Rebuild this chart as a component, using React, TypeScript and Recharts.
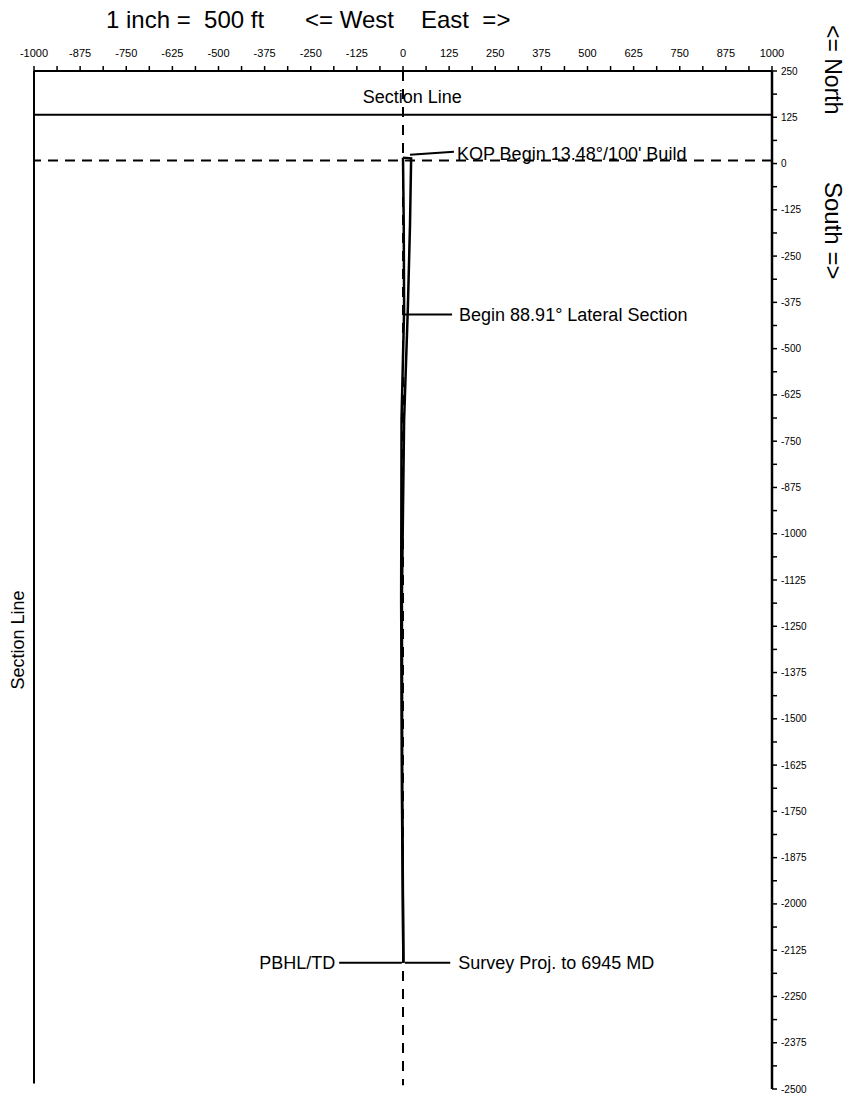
import {
  ScatterChart,
  Scatter,
  XAxis,
  YAxis,
  ReferenceLine,
  ReferenceDot,
} from "recharts";

// axis ticks (feet) – labelled every 125, minor tick half way between
const xMajorTicks = [
  -1000, -875, -750, -625, -500, -375, -250, -125, 0, 125, 250, 375, 500, 625, 750, 875, 1000,
];
const yMajorTicks = [
  250, 125, 0, -125, -250, -375, -500, -625, -750, -875, -1000, -1125, -1250, -1375, -1500,
  -1625, -1750, -1875, -2000, -2125, -2250, -2375, -2500,
];

// well path, East/West and North/South offsets (ft)
const surveyEW = [0, 2, 3, -4, -5, -3, 1];
const surveyNS = [16, -165, -395, -692, -1178, -1700, -2159];
const planEW = [0, 22, 19, 13, 3, -3, -2, 1];
const planNS = [16, 14, -165, -395, -692, -1178, -1700, -2159];

// section lines / reference lines
const sectionLineNS = 132;
const sectionLineEW = -1000;
const kopLineNS = 8;

// annotations: leader start, leader end, text
const kopLeader = [
  { x: 19, y: 24 },
  { x: 138, y: 32 },
];
const lateralLeader = [
  { x: 5, y: -408 },
  { x: 133, y: -408 },
];
const pbhlLeader = [
  { x: -173, y: -2159 },
  { x: -3, y: -2159 },
];
const surveyLeader = [
  { x: 5, y: -2159 },
  { x: 128, y: -2159 },
];
const kopText = "KOP Begin 13.48°/100' Build";
const lateralText = "Begin 88.91° Lateral Section";
const pbhlText = "PBHL/TD";
const surveyText = "Survey Proj. to 6945 MD";

const FONT = '"Liberation Sans", Arial, sans-serif';

const withMinor = (major: number[]) => {
  const out: number[] = [];
  major.forEach((v, i) => {
    out.push(v);
    if (i < major.length - 1) out.push((v + major[i + 1]) / 2);
  });
  return out;
};

const surveyData = surveyEW.map((x, i) => ({ x, y: surveyNS[i] }));
const planData = planEW.map((x, i) => ({ x, y: planNS[i] }));

const TopTick = (props: any) => {
  const { x, y, payload } = props;
  if (!xMajorTicks.includes(payload.value)) return <g />;
  return (
    <text x={x} y={y - 7} textAnchor="middle" fontSize={11} fill="#000" fontFamily={FONT}>
      {payload.value}
    </text>
  );
};

const RightTick = (props: any) => {
  const { x, y, payload } = props;
  if (!yMajorTicks.includes(payload.value)) return <g />;
  return (
    <text x={x} y={y} dy="0.35em" textAnchor="start" fontSize={10} fill="#000" fontFamily={FONT}>
      {payload.value}
    </text>
  );
};

const noShape = () => <g />;

const labelStyle = { fontSize: 18, fill: "#000", fontFamily: FONT };

const App = () => {
  return (
    <div style={{ position: "relative", width: 845, height: 1090, fontFamily: FONT }}>
      <span style={{ position: "absolute", left: 98, top: 0, fontSize: 24, lineHeight: "24px", whiteSpace: "pre" }}>
        1 inch =  500 ft
      </span>
      <span style={{ position: "absolute", left: 297, top: 0, fontSize: 24, lineHeight: "24px", whiteSpace: "pre" }}>
        {"<= West"}
      </span>
      <span style={{ position: "absolute", left: 413, top: 0, fontSize: 24, lineHeight: "24px", whiteSpace: "pre" }}>
        {"East  =>"}
      </span>
      <span
        style={{
          position: "absolute",
          left: 813,
          top: 17,
          fontSize: 23,
          lineHeight: "24px",
          writingMode: "vertical-rl",
          whiteSpace: "pre",
        }}
      >
        {"<= North"}
      </span>
      <span
        style={{
          position: "absolute",
          left: 813,
          top: 174,
          fontSize: 24,
          lineHeight: "24px",
          writingMode: "vertical-rl",
          whiteSpace: "pre",
        }}
      >
        {"South =>"}
      </span>
      <span
        style={{
          position: "absolute",
          left: 10,
          top: 632,
          fontSize: 18,
          lineHeight: 1,
          whiteSpace: "nowrap",
          transform: "translate(-50%, -50%) rotate(-90deg)",
        }}
      >
        Section Line
      </span>

      <ScatterChart width={845} height={1090} margin={{ top: 13, right: 36, bottom: 9, left: 26 }}>
        <XAxis
          type="number"
          dataKey="x"
          orientation="top"
          domain={[-1000, 1000]}
          ticks={withMinor(xMajorTicks)}
          interval={0}
          height={50}
          tickSize={5}
          tickMargin={2}
          tick={<TopTick />}
          axisLine={{ stroke: "#000", strokeWidth: 2 }}
          tickLine={{ stroke: "#000", strokeWidth: 1.5 }}
          allowDataOverflow
        />
        <YAxis
          type="number"
          dataKey="y"
          orientation="right"
          domain={[-2500, 250]}
          ticks={withMinor(yMajorTicks)}
          interval={0}
          width={45}
          tickSize={5}
          tickMargin={4}
          tick={<RightTick />}
          axisLine={{ stroke: "#000", strokeWidth: 2.5 }}
          tickLine={{ stroke: "#000", strokeWidth: 1.5 }}
          allowDataOverflow
        />

        <ReferenceLine segment={[{ x: sectionLineEW, y: 250 }, { x: sectionLineEW, y: -2485 }]} stroke="#000" strokeWidth={2} />
        <ReferenceLine y={sectionLineNS} stroke="#000" strokeWidth={2} />
        <ReferenceLine y={kopLineNS} stroke="#000" strokeWidth={2} strokeDasharray="10 7" />
        <ReferenceLine segment={[{ x: 0, y: 250 }, { x: 0, y: -2490 }]} stroke="#000" strokeWidth={2} strokeDasharray="10 8" />

        <ReferenceDot x={25} y={180} r={0} fill="none" stroke="none" label={{ value: "Section Line", position: "center", ...labelStyle }} />

        <ReferenceLine segment={kopLeader} stroke="#000" strokeWidth={2} />
        <ReferenceLine segment={lateralLeader} stroke="#000" strokeWidth={2} />
        <ReferenceLine segment={pbhlLeader} stroke="#000" strokeWidth={2} />
        <ReferenceLine segment={surveyLeader} stroke="#000" strokeWidth={2} />

        <ReferenceDot x={kopLeader[1].x} y={kopLeader[1].y - 4} r={0} fill="none" stroke="none" label={{ value: kopText, position: "right", offset: 3, ...labelStyle }} />
        <ReferenceDot x={lateralLeader[1].x} y={lateralLeader[1].y} r={0} fill="none" stroke="none" label={{ value: lateralText, position: "right", offset: 7, ...labelStyle }} />
        <ReferenceDot x={pbhlLeader[0].x} y={pbhlLeader[0].y} r={0} fill="none" stroke="none" label={{ value: pbhlText, position: "left", offset: 4, ...labelStyle }} />
        <ReferenceDot x={surveyLeader[1].x} y={surveyLeader[1].y} r={0} fill="none" stroke="none" label={{ value: surveyText, position: "right", offset: 8, ...labelStyle }} />

        <Scatter
          data={planData}
          line={{ stroke: "#000", strokeWidth: 2.5 }}
          lineType="joint"
          shape={noShape}
          isAnimationActive={false}
        />
        <Scatter
          data={surveyData}
          line={{ stroke: "#000", strokeWidth: 2.5 }}
          lineType="joint"
          shape={noShape}
          isAnimationActive={false}
        />
      </ScatterChart>
    </div>
  );
};

export default App;
